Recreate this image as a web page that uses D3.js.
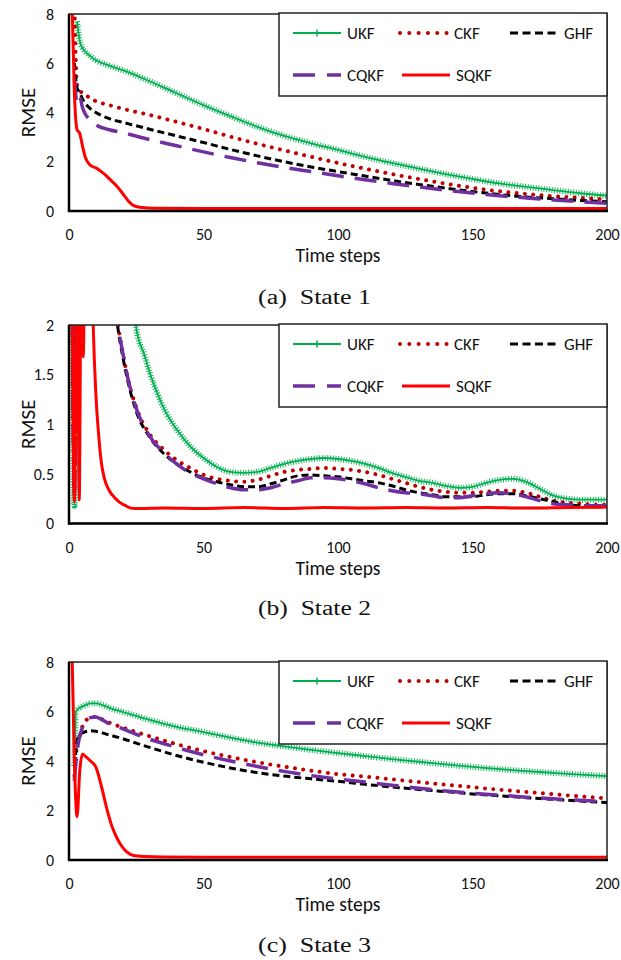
<!DOCTYPE html>
<html><head><meta charset="utf-8">
<script src="https://cdn.jsdelivr.net/npm/d3@7"></script>
<style>
html,body{margin:0;padding:0;background:#fff;}
svg{display:block;}
</style></head>
<body>
<svg id="chart" width="621" height="960"></svg>
<script>
// ---------- DATA ----------
const seriesNames = ["UKF", "CKF", "GHF", "CQKF", "SQKF"];
const xTicks = [0, 50, 100, 150, 200];
const yTicksA = [0, 2, 4, 6, 8];
const yTicksB = [0, 0.5, 1, 1.5, 2];
const captions = ["(a)  State 1", "(b)  State 2", "(c)  State 3"];

// State 1
const s1_UKF = [[3,7.7],[4,6.9],[5,6.62],[6,6.48],[8,6.28],[10,6.12],[15,5.9],[20,5.72],[30,5.27],[40,4.78],[50,4.3],[60,3.85],[70,3.42],[80,3.05],[90,2.75],[100,2.48],[110,2.2],[120,1.95],[130,1.72],[140,1.5],[150,1.3],[160,1.12],[170,0.98],[180,0.85],[190,0.72],[200,0.62]];
const s1_CKF = [[2,8.5],[3,5.1],[4,4.9],[6,4.72],[8,4.58],[10,4.46],[15,4.3],[20,4.15],[30,3.9],[40,3.62],[50,3.33],[60,3.02],[70,2.73],[80,2.46],[90,2.2],[100,1.95],[110,1.72],[120,1.5],[130,1.3],[140,1.11],[150,0.94],[160,0.8],[170,0.69],[180,0.6],[190,0.53],[200,0.47]];
const s1_GHF = [[2,6],[3,5.0],[4,4.8],[5,4.55],[6,4.38],[8,4.15],[10,4.0],[15,3.75],[20,3.6],[30,3.32],[40,3.05],[50,2.78],[60,2.5],[70,2.24],[80,2.0],[90,1.79],[100,1.6],[110,1.42],[120,1.24],[130,1.08],[140,0.93],[150,0.79],[160,0.67],[170,0.57],[180,0.5],[190,0.43],[200,0.38]];
const s1_CQKF = [[2,5.4],[3,4.4],[4,4.65],[5,4.2],[6,3.95],[8,3.68],[10,3.5],[15,3.3],[20,3.18],[30,2.9],[40,2.65],[50,2.4],[60,2.17],[70,1.96],[80,1.77],[90,1.6],[100,1.43],[110,1.27],[120,1.12],[130,0.98],[140,0.85],[150,0.73],[160,0.62],[170,0.53],[180,0.45],[190,0.38],[200,0.31]];
const s1_SQKF = [[1,9],[2,4.8],[3,3.3],[4,3.15],[5,2.65],[6,2.2],[7,1.98],[8,1.85],[10,1.75],[12,1.6],[14,1.42],[16,1.2],[18,0.98],[20,0.7],[22,0.42],[24,0.22],[27,0.14],[32,0.11],[50,0.1],[100,0.1],[150,0.1],[200,0.1]];

// State 2
const s2_UKF = [[1,3],[2,0.18],[3,3],[24,2.2],[25,1.97],[28,1.7],[30,1.52],[33,1.3],[36,1.12],[40,0.95],[45,0.78],[50,0.66],[55,0.57],[60,0.52],[65,0.51],[70,0.52],[75,0.56],[80,0.6],[85,0.63],[90,0.65],[95,0.66],[100,0.65],[105,0.63],[110,0.6],[115,0.56],[120,0.51],[125,0.47],[130,0.43],[135,0.41],[140,0.38],[145,0.36],[150,0.37],[155,0.41],[160,0.44],[165,0.45],[170,0.42],[175,0.35],[180,0.28],[185,0.25],[190,0.24],[195,0.24],[200,0.24]];
const s2_CKF = [[1,3],[2,0.3],[3,3],[17,2.3],[18,2.05],[20,1.72],[22,1.45],[25,1.17],[30,0.9],[35,0.75],[40,0.64],[45,0.56],[50,0.49],[55,0.45],[60,0.43],[65,0.42],[70,0.44],[75,0.48],[80,0.52],[85,0.54],[90,0.55],[95,0.56],[100,0.55],[105,0.54],[110,0.52],[115,0.49],[120,0.45],[125,0.41],[130,0.37],[135,0.34],[140,0.32],[145,0.31],[150,0.31],[155,0.32],[160,0.33],[165,0.33],[170,0.31],[175,0.27],[180,0.23],[185,0.21],[190,0.2],[195,0.19],[200,0.19]];
const s2_GHF = [[1,3],[2,0.35],[3,3],[17,2.2],[18,2.0],[20,1.68],[22,1.42],[25,1.13],[30,0.87],[35,0.71],[40,0.6],[45,0.52],[50,0.46],[55,0.42],[60,0.39],[65,0.37],[70,0.37],[75,0.4],[80,0.44],[85,0.48],[90,0.49],[95,0.48],[100,0.47],[105,0.45],[110,0.43],[115,0.41],[120,0.38],[125,0.34],[130,0.31],[135,0.29],[140,0.27],[145,0.27],[150,0.27],[155,0.29],[160,0.3],[165,0.3],[170,0.28],[175,0.25],[180,0.22],[185,0.19],[190,0.18],[195,0.17],[200,0.17]];
const s2_CQKF = [[1,3],[2,0.3],[3,3],[17,2.25],[18,2.03],[20,1.72],[22,1.45],[25,1.16],[30,0.88],[35,0.72],[40,0.6],[45,0.51],[50,0.45],[55,0.4],[60,0.36],[65,0.34],[70,0.34],[75,0.36],[80,0.4],[85,0.43],[90,0.46],[95,0.46],[100,0.45],[105,0.43],[110,0.4],[115,0.36],[120,0.33],[125,0.31],[130,0.3],[135,0.28],[140,0.26],[145,0.26],[150,0.28],[155,0.3],[160,0.31],[165,0.3],[170,0.27],[175,0.23],[180,0.2],[185,0.19],[190,0.18],[195,0.18],[200,0.18]];
const s2_SQKF = [[1,3],[2,0.22],[3,3],[3.8,0.24],[4.6,3],[5.3,1.68],[6,3],[8.5,2.6],[9,2.0],[10,1.3],[11,0.9],[12,0.62],[13,0.47],[15,0.33],[17,0.26],[19,0.21],[21,0.18],[23,0.155],[26,0.15],[35,0.155],[50,0.15],[65,0.16],[80,0.15],[95,0.16],[110,0.155],[125,0.16],[140,0.155],[155,0.16],[170,0.155],[185,0.16],[200,0.165]];

// State 3
const s3_UKF = [[2,3.8],[2.6,6.0],[4,6.15],[6,6.25],[8,6.33],[10,6.33],[12,6.28],[15,6.15],[20,5.98],[25,5.82],[30,5.66],[40,5.38],[50,5.17],[60,4.94],[70,4.74],[80,4.59],[90,4.45],[100,4.32],[110,4.2],[120,4.08],[130,3.97],[140,3.86],[150,3.76],[160,3.67],[170,3.59],[180,3.52],[190,3.45],[200,3.39]];
const s3_CKF = [[2,3.4],[3,4.6],[4,5.0],[5,5.4],[6,5.6],[8,5.75],[10,5.78],[12,5.7],[15,5.55],[20,5.35],[25,5.17],[30,5.0],[40,4.68],[50,4.4],[60,4.16],[70,3.95],[80,3.77],[90,3.61],[100,3.47],[110,3.37],[120,3.26],[130,3.15],[140,3.04],[150,2.94],[160,2.84],[170,2.75],[180,2.66],[190,2.57],[200,2.49]];
const s3_GHF = [[2,3.8],[3,4.8],[4,5.05],[6,5.18],[8,5.22],[10,5.2],[15,5.05],[20,4.9],[25,4.72],[30,4.55],[40,4.22],[50,3.95],[60,3.72],[70,3.53],[80,3.39],[90,3.28],[100,3.18],[110,3.06],[120,2.95],[130,2.85],[140,2.76],[150,2.67],[160,2.59],[170,2.52],[180,2.45],[190,2.38],[200,2.32]];
const s3_CQKF = [[2,3.2],[3,4.4],[4,5.0],[5,5.35],[6,5.6],[8,5.75],[10,5.78],[12,5.68],[15,5.5],[20,5.3],[25,5.08],[30,4.88],[40,4.55],[50,4.25],[60,4.0],[70,3.78],[80,3.58],[90,3.41],[100,3.27],[110,3.15],[120,3.02],[130,2.9],[140,2.79],[150,2.7],[160,2.62],[170,2.54],[180,2.47],[190,2.41],[200,2.35]];
const s3_SQKF = [[1,9],[2,4.0],[3,1.75],[4,3.6],[5,4.28],[6,4.2],[8,4.0],[10,3.75],[12,3.0],[14,2.1],[16,1.35],[18,0.85],[20,0.5],[22,0.28],[24,0.18],[28,0.14],[35,0.12],[60,0.11],[100,0.11],[150,0.11],[200,0.11]];

// ---------- STYLE ----------
const styles = {
  UKF:  {color:"#00b050", width:1.8},
  CKF:  {color:"#c00000", width:4, dash:"0.01 8.3", cap:"round"},
  GHF:  {color:"#000000", width:3, dash:"7 4"},
  CQKF: {color:"#7030a0", width:3.5, dash:"22 11"},
  SQKF: {color:"#ff0000", width:3}
};
const uiFont = "Carlito, Lato, 'Open Sans', sans-serif";

const panels = [
  {top:14,  bottom:211,   yMax:8, yTicks:yTicksA, data:[s1_UKF,s1_CKF,s1_GHF,s1_CQKF,s1_SQKF], caption:captions[0], capY:297},
  {top:325, bottom:523.5, yMax:2, yTicks:yTicksB, data:[s2_UKF,s2_CKF,s2_GHF,s2_CQKF,s2_SQKF], caption:captions[1], capY:608},
  {top:662, bottom:860,   yMax:8, yTicks:yTicksA, data:[s3_UKF,s3_CKF,s3_GHF,s3_CQKF,s3_SQKF], caption:captions[2], capY:945}
];
const left = 69, right = 607;

const svg = d3.select("#chart");

panels.forEach((p, pi) => {
  const x = d3.scaleLinear().domain([0, 200]).range([left, right]);
  const y = d3.scaleLinear().domain([0, p.yMax]).range([p.bottom, p.top]);
  const g = svg.append("g");

  const clipId = "clip" + pi;
  svg.append("clipPath").attr("id", clipId)
    .append("rect").attr("x", left).attr("y", p.top).attr("width", right - left).attr("height", p.bottom - p.top);

  const line = d3.line().x(d => x(d[0])).y(d => y(d[1])).curve(d3.curveMonotoneX);

  const plot = g.append("g").attr("clip-path", `url(#${clipId})`);
  seriesNames.forEach((name, si) => {
    const st = styles[name];
    const pathD = line(p.data[si]);
    plot.append("path").attr("d", pathD).attr("fill", "none")
      .attr("stroke", st.color).attr("stroke-width", st.width)
      .attr("stroke-dasharray", st.dash || null)
      .attr("stroke-linecap", st.cap || "butt")
      .attr("stroke-linejoin", "round");
    if (name === "UKF") {
      plot.append("path").attr("d", pathD).attr("fill", "none")
        .attr("stroke", st.color).attr("stroke-width", 6)
        .attr("stroke-dasharray", "1 1.69").attr("stroke-opacity", 0.9);
    }
  });

  // frame
  g.append("rect").attr("x", left).attr("y", p.top).attr("width", right - left).attr("height", p.bottom - p.top)
    .attr("fill", "none").attr("stroke", "#222").attr("stroke-width", 1.5);
  g.append("line").attr("x1", left).attr("x2", left).attr("y1", p.top).attr("y2", p.bottom + 1)
    .attr("stroke", "#000").attr("stroke-width", 2.5);
  g.append("line").attr("x1", left - 1).attr("x2", right + 1).attr("y1", p.bottom).attr("y2", p.bottom)
    .attr("stroke", "#000").attr("stroke-width", 2.5);

  const yAxis = d3.axisLeft(y).tickValues(p.yTicks).tickSize(0).tickPadding(15).tickFormat(d => String(d));
  const ya = g.append("g").attr("transform", `translate(${left},0)`).call(yAxis);
  ya.select(".domain").remove();
  ya.selectAll("text").attr("font-family", uiFont).attr("font-size", 16).attr("fill", "#111");

  const xAxis = d3.axisBottom(x).tickValues(xTicks).tickSize(0).tickPadding(18).tickFormat(d => String(d));
  const xa = g.append("g").attr("transform", `translate(0,${p.bottom})`).call(xAxis);
  xa.select(".domain").remove();
  xa.selectAll("text").attr("font-family", uiFont).attr("font-size", 16).attr("fill", "#111");

  g.append("text").attr("x", (left + right) / 2).attr("y", p.bottom + 51)
    .attr("text-anchor", "middle").attr("font-family", uiFont).attr("font-size", 19.5).attr("fill", "#111")
    .text("Time steps");
  g.append("text").attr("transform", `translate(35,${(p.top + p.bottom) / 2}) rotate(-90)`)
    .attr("text-anchor", "middle").attr("font-family", uiFont).attr("font-size", 21).attr("fill", "#111")
    .text("RMSE");

  // legend
  const lg = g.append("g").attr("transform", `translate(279,${p.top - 1})`);
  lg.append("rect").attr("x", 0).attr("y", 0).attr("width", 328).attr("height", 83)
    .attr("fill", "#fff").attr("stroke", "#222").attr("stroke-width", 1.5);
  const items = [
    {n:"UKF", x:14, y:20, dash:null}, {n:"CKF", x:121, y:20, dash:"0.01 9.3"}, {n:"GHF", x:231, y:20, dash:"8 4.5"},
    {n:"CQKF", x:14, y:62, dash:"22 12"}, {n:"SQKF", x:123, y:62, dash:null}
  ];
  items.forEach(it => {
    const st = styles[it.n];
    lg.append("line").attr("x1", it.x).attr("x2", it.x + 48).attr("y1", it.y).attr("y2", it.y)
      .attr("stroke", st.color).attr("stroke-width", st.width)
      .attr("stroke-dasharray", it.dash)
      .attr("stroke-linecap", st.cap || "butt");
    if (it.n === "UKF") {
      lg.append("line").attr("x1", it.x + 24).attr("x2", it.x + 24).attr("y1", it.y - 3.5).attr("y2", it.y + 3.5)
        .attr("stroke", st.color).attr("stroke-width", 1.5);
    }
    lg.append("text").attr("x", it.x + 54).attr("y", it.y).attr("dy", "0.35em")
      .attr("font-family", uiFont).attr("font-size", 17).attr("fill", "#111").text(it.n);
  });

  // caption
  svg.append("text").attr("x", 258).attr("y", p.capY).attr("dy", "0.35em")
    .attr("text-anchor", "start").attr("font-family", "'Liberation Serif', 'Times New Roman', serif")
    .attr("font-size", 20).attr("fill", "#111").style("white-space", "pre")
    .attr("textLength", 113).attr("lengthAdjust", "spacingAndGlyphs")
    .text(p.caption);
});
</script>
</body></html>
